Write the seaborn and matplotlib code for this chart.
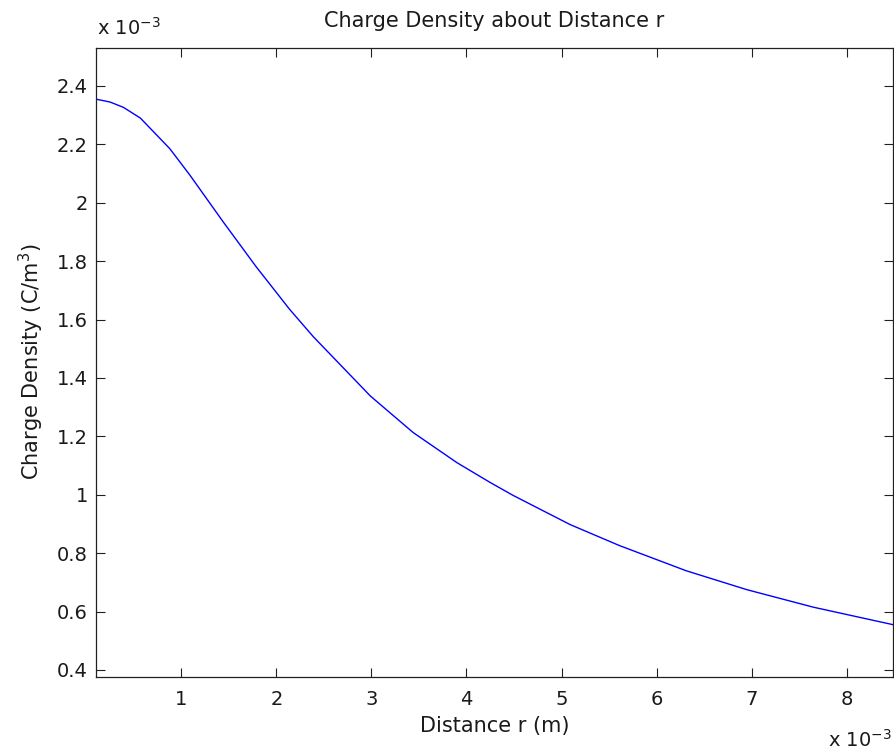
import matplotlib
matplotlib.use("Agg")
import matplotlib.pyplot as plt
import seaborn as sns
import pandas as pd

# Data (r in units of 1e-3 m, density in units of 1e-3 C/m^3)
r_mm = [0.10, 0.25, 0.39, 0.57, 0.88, 1.09, 1.44, 1.79, 2.14, 2.39, 2.99, 3.44,
        3.90, 4.25, 4.49, 5.09, 5.61, 6.31, 6.95, 7.65, 8.49]
rho = [2.355, 2.345, 2.327, 2.290, 2.185, 2.095, 1.935, 1.780, 1.635, 1.541, 1.338, 1.213,
       1.110, 1.042, 0.998, 0.898, 0.826, 0.740, 0.675, 0.615, 0.555]
x_ticks = [1, 2, 3, 4, 5, 6, 7, 8]
y_ticks = [0.4, 0.6, 0.8, 1.0, 1.2, 1.4, 1.6, 1.8, 2.0, 2.2, 2.4]

title = "Charge Density about Distance r"
xlabel = "Distance r (m)"
ylabel = "Charge Density (C/m$^3$)"
scale_label = "x 10$^{-3}$"

sns.set_theme(style="ticks")
plt.rcParams["font.family"] = ["DejaVu Sans"]
plt.rcParams["mathtext.default"] = "regular"

df = pd.DataFrame({"r": r_mm, "rho": rho})

W, H = 894, 754
fig = plt.figure(figsize=(W / 100, H / 100), dpi=100)
left, right, top, bottom = 95.7, 893.3, 47.7, 677.0
ax = fig.add_axes([left / W, 1 - bottom / H, (right - left) / W, (bottom - top) / H])

sns.lineplot(data=df, x="r", y="rho", ax=ax, color="#0000ff", linewidth=1.0,
             estimator=None, sort=False)

ax.set_xlim(0.1, 8.49)
ax.set_ylim(0.376, 2.531)
ax.set_xticks(x_ticks)
ax.set_yticks(y_ticks)
ax.set_xticklabels([f"{v:g}" for v in x_ticks])
ax.set_yticklabels([f"{v:g}" for v in y_ticks])

ax.tick_params(axis="both", direction="in", length=6.5, width=0.8, colors="#202020",
               labelcolor="#1a1a1a", labelsize=14, top=True, right=True)
ax.tick_params(axis="x", pad=9.3)
ax.tick_params(axis="y", pad=5.5)
for s in ax.spines.values():
    s.set_visible(True)
    s.set_color("#202020")
    s.set_linewidth(0.9)
ax.set_xlabel("")
ax.set_ylabel("")
ax.grid(False)

cx = (left + right) / 2 / W
fig.text(cx, 1 - 27 / H, title, ha="center", va="baseline", fontsize=15, color="#1a1a1a")
fig.text(cx, 1 - 732 / H, xlabel, ha="center", va="baseline", fontsize=15, color="#1a1a1a")
fig.text(31 / W, 1 - 362 / H, ylabel, ha="center", va="center", rotation=90,
         fontsize=15, color="#1a1a1a")
fig.text(96.7 / W, 1 - 35 / H, scale_label, ha="left", va="baseline", fontsize=14,
         color="#1a1a1a")
fig.text(892 / W, 1 - 747 / H, scale_label, ha="right", va="baseline", fontsize=14,
         color="#1a1a1a")

fig.savefig("out.png", dpi=100, facecolor="white")
